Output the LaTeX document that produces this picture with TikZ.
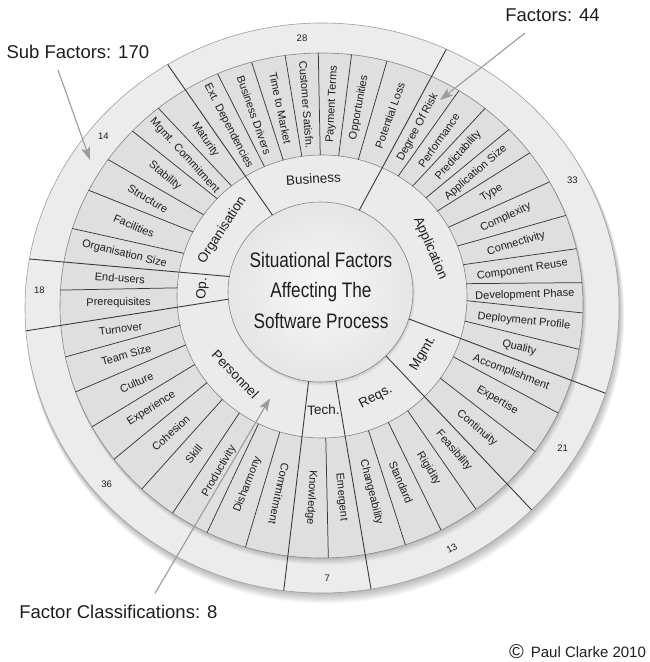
\documentclass[tikz,border=0pt]{standalone}
\usepackage{fontspec}
\setmainfont{Liberation Sans}
\usetikzlibrary{arrows.meta,calc}
\definecolor{bandc}{HTML}{ECECEC}
\definecolor{subc}{HTML}{DFDFDF}
\definecolor{facc}{HTML}{EBEBEB}
\definecolor{edgec}{HTML}{858585}
\definecolor{linec}{HTML}{3A3A3A}
\definecolor{arrc}{HTML}{9C9C9C}
\definecolor{txtc}{HTML}{1E1E1E}
\begin{document}
\begin{tikzpicture}[x=1pt,y=1pt,
  sublab/.style={font=\fontsize{11}{12}\selectfont,text=txtc,inner sep=0pt},
  classlab/.style={font=\fontsize{13.5}{14}\selectfont,text=txtc,inner sep=0pt},
  numlab/.style={font=\fontsize{9.5}{10}\selectfont,text=txtc,inner sep=0pt},
  annot/.style={font=\fontsize{18.5}{20}\selectfont,text=txtc,inner sep=0pt},
  subline/.style={draw=linec,line width=0.75pt},
  classline/.style={draw=linec,line width=0.9pt},
  ringedge/.style={draw=edgec,line width=0.6pt},
  annarrow/.style={draw=arrc,line width=1.1pt,-{Stealth[length=13pt,width=9pt,inset=3pt]},fill=arrc}]
\useasboundingbox (0,0) rectangle (650,662);
\fill[white] (0,0) rectangle (650,662);
\coordinate (cO) at (322,354);
\coordinate (cS) at (321.5,356.5);
\coordinate (cI) at (322,365.5);
\coordinate (cC) at (320.5,370);
\coordinate (cL) at (321.75,361);
\coordinate (cF) at (321.25,367.75);
% outer shadow
\foreach \i in {1,...,9}
  \fill[black,opacity=0.03] ($(cO)+(0.35*\i,-0.9*\i)$) ellipse ({297+0.25*\i} and {285+0.25*\i});
% outer band
\fill[bandc] (cO) ellipse (297 and 285);
\draw[ringedge,draw=gray!75] (cO) ellipse (297 and 285);
% shadow of sub-factor ring on band
\foreach \i in {1,...,6}
  \fill[black,opacity=0.035] ($(cS)+(0.4*\i,-0.9*\i)$) ellipse ({261.5+0.2*\i} and {252.5+0.2*\i});
\fill[subc] (cS) ellipse (261.5 and 252.5);
\draw[ringedge] (cS) ellipse (261.5 and 252.5);
% factor ring
\fill[facc] (cI) ellipse (145 and 141.5);
\draw[ringedge] (cI) ellipse (145 and 141.5);
% centre
\foreach \i in {1,...,4}
  \fill[black,opacity=0.03] ($(cC)+(0.3*\i,-0.7*\i)$) ellipse ({92.5+0.2*\i} and {90+0.2*\i});
\shade[inner color=white!92!gray, outer color=gray!22] ($(cC)+(-20,20)$) circle (0.1pt);
\shade[inner color=gray!6, outer color=gray!20] (cC) ellipse (92.5 and 90);
\draw[ringedge] (cC) ellipse (92.5 and 90);
% sub-factor boundaries
\foreach \t in {113.4,105.5,98,90.7,83.4,75.5,58.3,51.3,44.2,37.2,29.3,20.9,13.0,5.2,-1.7,-10.0,-25.2,-35.3,-53.8,-62.8,-71.3,-88.5,253.1,244.05,235.3,226.6,217.5,208.7,200,191.75,176.5,162.25,152.85,144.7,136.3,128.6}
  \draw[subline] ($(cI)+(\t:145pt and 141.5pt)$) -- ($(cS)+(\t:261.5pt and 252.5pt)$);
% classification boundaries
\foreach \t in {121.3,65.25,-17.4,-45.1,-80.5,262.6,184.6,170.1}
  \draw[classline] ($(cC)+(\t:92.5pt and 90pt)$) -- ($(cO)+(\t:297pt and 285pt)$);
% sub-factor labels
\foreach \t/\r/\s [count=\k] in {
  117.35/-62.65/Ext. Dependencies, 109.45/-70.55/Business Drivers, 101.75/-78.25/Time to Market,
  94.35/-85.65/Customer Satisfn., 87.05/87.05/Payment Terms, 79.45/79.45/Opportunities,
  70.4/70.4/Potential Loss, 61.8/61.8/Degree Of Risk, 54.8/54.8/Performance,
  47.75/47.75/Predictability, 40.7/40.7/Application Size, 33.25/33.25/Type,
  25.1/25.1/Complexity, 16.95/16.95/Connectivity, 9.1/9.1/Component Reuse,
  1.75/1.75/Development Phase, -5.85/-5.85/Deployment Profile, -13.7/-13.7/Quality,
  -21.3/-21.3/Accomplishment, -30.25/-30.25/Expertise, -40.2/-40.2/Continuity,
  -49.45/-49.45/Feasibility, -58.3/-58.3/Rigidity, -67.05/-67.05/Standard,
  -75.9/-75.9/Changeability, -84.5/-84.5/Emergent, -92.95/-92.95/Knowledge,
  257.85/-102.15/Commitment, 248.6/68.6/Disharmony, 239.7/59.7/Productivity,
  230.95/50.95/Skill, 222.05/42.05/Cohesion, 213.1/33.1/Experience,
  204.35/24.35/Culture, 195.9/15.9/Team Size, 188.2/8.2/Turnover,
  180.55/0.55/Prerequisites, 173.3/-4/End-users, 166.2/-13.8/Organisation Size,
  157.55/-22.45/Facilities, 148.8/-31.2/Structure, 140.5/-39.5/Stability,
  132.45/-47.55/Mgmt. Commitment, 124.95/-55.05/Maturity}
  \node[sublab,rotate=\r] (sf\k) at ($(cL)+(\t:203.25pt and 197pt)$) {\s};
% classification labels
\foreach \t/\r/\s [count=\k] in {93.8/3.8/Business, 23.4/-66.6/Application, -30.8/59.2/Mgmt.,
  -62.7/27.3/Reqs., -89/1/Tech., 223.7/-46.3/Personnel, 177.35/87.35/Op., 146.5/56.5/Organisation}
  \node[classlab,rotate=\r] (fc\k) at ($(cF)+(\t:118.75pt and 115.75pt)$) {\s};
% counts
\node[numlab] (n28) at (302,624) {28};
\node[numlab] (n33) at (572.3,482) {33};
\node[numlab] (n21) at (562.7,213.7) {21};
\node[numlab,rotate=28.5] (n13) at (451.7,113.7) {13};
\node[numlab] (n7) at (327.3,83.7) {7};
\node[numlab] (n36) at (106.7,178) {36};
\node[numlab] (n18) at (39.3,372) {18};
\node[numlab] (n14) at (103.3,525.3) {14};
% centre text
\node[align=center,font=\fontsize{21}{30.5}\selectfont,text=txtc,inner sep=0pt] (centre) at (321,372)
  {\scalebox{0.82}[1]{Situational Factors}\\\scalebox{0.82}[1]{Affecting The}\\\scalebox{0.82}[1]{Software Process}};
% annotations
\node[annot] (tsub) at (77.8,610.5) {Sub Factors: 170};
\coordinate (sa) at (58,592);
\coordinate (sb) at (90,502);
\draw[annarrow] (sa) -- (sb);
\node[annot] (tfac) at (552.5,647) {Factors: 44};
\coordinate (fa) at (525,629);
\coordinate (fb) at (440,562);
\draw[annarrow] (fa) -- (fb);
\node[annot] (tcls) at (118.3,50.3) {Factor Classifications: 8};
\coordinate (ca) at (155,68.7);
\coordinate (cb) at (270,263.7);
\draw[annarrow] (ca) -- (cb);
\node[inner sep=0pt,text=txtc] (copy) at (577.5,10.3)
  {{\fontsize{20}{20}\selectfont\raisebox{-1.5pt}{©}}\hspace{7pt}{\fontsize{15}{16}\selectfont Paul Clarke 2010}};
\end{tikzpicture}
\end{document}
